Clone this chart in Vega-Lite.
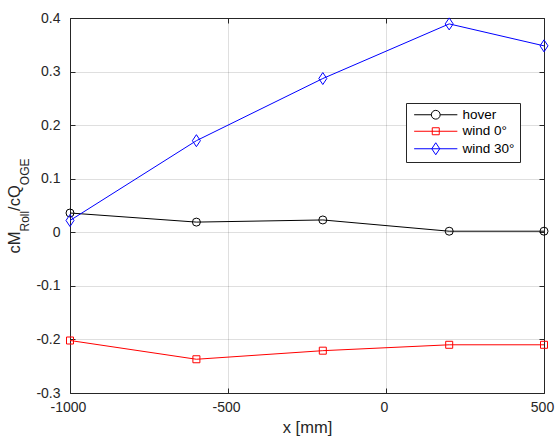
{
  "$schema": "https://vega.github.io/schema/vega-lite/v6.json",
  "width": 474,
  "height": 375,
  "autosize": "none",
  "padding": {"left": 70, "top": 18, "right": 11, "bottom": 44},
  "background": "white",
  "config": {
    "view": {"stroke": null},
    "font": "Liberation Sans",
    "axis": {
      "domainColor": "#262626",
      "domainWidth": 1,
      "tickColor": "#262626",
      "tickWidth": 1,
      "labelColor": "#262626",
      "labelFont": "Liberation Sans",
      "labelFontSize": 14,
      "titleFont": "Liberation Sans",
      "titleFontSize": 16.5,
      "titleFontWeight": "normal",
      "titleColor": "#262626",
      "gridColor": "#262626",
      "gridOpacity": 0.15,
      "gridWidth": 1,
      "labelFlush": false,
      "labelOverlap": false
    }
  },
  "data": {
    "values": [
      {"x": -1000, "value": 0.036, "series": "hover"},
      {"x": -600, "value": 0.019, "series": "hover"},
      {"x": -200, "value": 0.023, "series": "hover"},
      {"x": 200, "value": 0.002, "series": "hover"},
      {"x": 500, "value": 0.002, "series": "hover"},
      {"x": -1000, "value": -0.202, "series": "wind 0°"},
      {"x": -600, "value": -0.237, "series": "wind 0°"},
      {"x": -200, "value": -0.221, "series": "wind 0°"},
      {"x": 200, "value": -0.210, "series": "wind 0°"},
      {"x": 500, "value": -0.210, "series": "wind 0°"},
      {"x": -1000, "value": 0.022, "series": "wind 30°"},
      {"x": -600, "value": 0.171, "series": "wind 30°"},
      {"x": -200, "value": 0.287, "series": "wind 30°"},
      {"x": 200, "value": 0.389, "series": "wind 30°"},
      {"x": 500, "value": 0.348, "series": "wind 30°"}
    ]
  },
  "layer": [
    {
      "layer": [
        {
          "mark": {"type": "line", "strokeWidth": 1},
          "encoding": {
            "x": {
              "field": "x", "type": "quantitative",
              "scale": {"domain": [-1000, 500], "nice": false, "zero": false},
              "axis": {
                "orient": "bottom",
                "values": [-1000, -500, 0, 500],
                "format": "d",
                "labelExpr": "replace(datum.label, '−', '-')",
                "tickSize": -5,
                "labelPadding": 12,
                "labelOffset": -2,
                "grid": true,
                "title": "x [mm]",
                "titleY": 39,
                "titleBaseline": "alphabetic"
              }
            },
            "y": {
              "field": "value", "type": "quantitative",
              "scale": {"domain": [-0.3, 0.4], "nice": false, "zero": false},
              "axis": {
                "orient": "left",
                "values": [-0.3, -0.2, -0.1, 0, 0.1, 0.2, 0.3, 0.4],
                "format": "~g",
                "labelExpr": "replace(datum.label, '−', '-')",
                "tickSize": -5,
                "labelPadding": 15,
                "grid": true,
                "title": "cM",
                "titleX": -51,
                "titleY": 235,
                "titleAngle": -90,
                "titleAlign": "left",
                "titleBaseline": "alphabetic"
              }
            },
            "color": {
              "field": "series", "type": "nominal",
              "scale": {"domain": ["hover", "wind 0°", "wind 30°"], "range": ["black", "red", "blue"]},
              "legend": {
                "orient": "none",
                "legendX": 336,
                "legendY": 85,
                "title": null,
                "padding": 5,
                "strokeColor": "#262626",
                "fillColor": "white",
                "symbolSize": 64,
                "symbolStrokeWidth": 1,
                "symbolOffset": 18,
                "labelOffset": 20,
                "labelFont": "Liberation Sans",
                "labelFontSize": 13.5,
                "labelColor": "black",
                "labelExpr": "datum.label + '  '",
                "rowPadding": 1.5,
                "encode": {
                  "symbols": {
                    "update": {
                      "shape": {"signal": "datum.value === 'hover' ? 'M-5.4,0H-1.1M1.1,0H5.4M1.1,0A1.1 1.1 0 1 1 -1.1 0A1.1 1.1 0 1 1 1.1 0Z' : datum.value === 'wind 0°' ? 'M-5.4,0H5.4M-0.875,-0.875H0.875V0.875H-0.875Z' : 'M-5.4,0H5.4M0,-1.5L1,0L0,1.5L-1,0Z'"},
                      "fill": {"value": "transparent"},
                      "strokeWidth": {"value": 1}
                    }
                  }
                }
              }
            }
          }
        },
        {
          "transform": [{"filter": {"field": "series", "equal": "hover"}}],
          "mark": {"type": "point", "filled": false, "size": 64, "strokeWidth": 1, "opacity": 1, "shape": "circle", "stroke": "black"},
          "encoding": {
            "x": {"field": "x", "type": "quantitative"},
            "y": {"field": "value", "type": "quantitative"}
          }
        },
        {
          "transform": [{"filter": {"field": "series", "equal": "wind 0°"}}],
          "mark": {"type": "point", "filled": false, "size": 64, "strokeWidth": 1, "opacity": 1, "shape": "M-0.875,-0.875H0.875V0.875H-0.875Z", "stroke": "red"},
          "encoding": {
            "x": {"field": "x", "type": "quantitative"},
            "y": {"field": "value", "type": "quantitative"}
          }
        },
        {
          "transform": [{"filter": {"field": "series", "equal": "wind 30°"}}],
          "mark": {"type": "point", "filled": false, "size": 64, "strokeWidth": 1, "opacity": 1, "shape": "M0,-1.5L1,0L0,1.5L-1,0Z", "stroke": "blue"},
          "encoding": {
            "x": {"field": "x", "type": "quantitative"},
            "y": {"field": "value", "type": "quantitative"}
          }
        }
      ]
    },
    {
      "mark": {"type": "point", "opacity": 0},
      "encoding": {
        "x": {"field": "x", "type": "quantitative", "scale": {"domain": [-1000, 500], "nice": false, "zero": false}, "axis": null},
        "y": {
          "field": "value", "type": "quantitative",
          "scale": {"domain": [-0.3, 0.4], "nice": false, "zero": false},
          "axis": {"orient": "left", "title": "Roll", "labels": false, "ticks": false, "domain": false, "grid": false,
                   "titleX": -42, "titleY": 213, "titleAngle": -90, "titleAlign": "left", "titleBaseline": "alphabetic", "titleFontSize": 12}
        }
      }
    },
    {
      "mark": {"type": "point", "opacity": 0},
      "encoding": {
        "x": {"field": "x", "type": "quantitative", "scale": {"domain": [-1000, 500], "nice": false, "zero": false}, "axis": null},
        "y": {
          "field": "value", "type": "quantitative",
          "scale": {"domain": [-0.3, 0.4], "nice": false, "zero": false},
          "axis": {"orient": "left", "title": "/cQ", "labels": false, "ticks": false, "domain": false, "grid": false,
                   "titleX": -51, "titleY": 192.4, "titleAngle": -90, "titleAlign": "left", "titleBaseline": "alphabetic"}
        }
      }
    },
    {
      "mark": {"type": "point", "opacity": 0},
      "encoding": {
        "x": {"field": "x", "type": "quantitative", "scale": {"domain": [-1000, 500], "nice": false, "zero": false}, "axis": null},
        "y": {
          "field": "value", "type": "quantitative",
          "scale": {"domain": [-0.3, 0.4], "nice": false, "zero": false},
          "axis": {"orient": "left", "title": "OGE", "labels": false, "ticks": false, "domain": false, "grid": false,
                   "titleX": -42, "titleY": 166.7, "titleAngle": -90, "titleAlign": "left", "titleBaseline": "alphabetic", "titleFontSize": 12}
        }
      }
    },
    {
      "mark": {"type": "point", "opacity": 0},
      "encoding": {
        "x": {
          "field": "x", "type": "quantitative",
          "scale": {"domain": [-1000, 500], "nice": false, "zero": false},
          "axis": {"orient": "top", "values": [-1000, -500, 0, 500], "labels": false, "title": null, "grid": false, "tickSize": -5}
        },
        "y": {
          "field": "value", "type": "quantitative",
          "scale": {"domain": [-0.3, 0.4], "nice": false, "zero": false},
          "axis": {"orient": "right", "values": [-0.3, -0.2, -0.1, 0, 0.1, 0.2, 0.3, 0.4], "labels": false, "title": null, "grid": false, "tickSize": -5}
        }
      }
    }
  ],
  "resolve": {"scale": {"x": "independent", "y": "independent"}}
}
